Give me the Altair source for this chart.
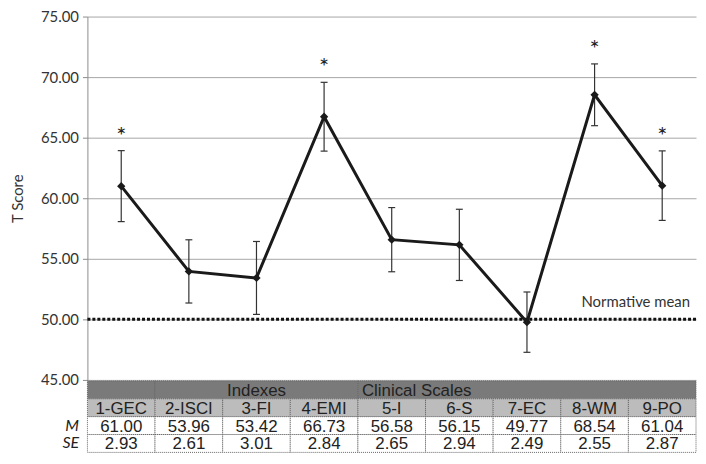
import altair as alt
import pandas as pd

# ---- data ----
scales = ["1-GEC", "2-ISCI", "3-FI", "4-EMI", "5-I", "6-S", "7-EC", "8-WM", "9-PO"]
means = [61.00, 53.96, 53.42, 66.73, 56.58, 56.15, 49.77, 68.54, 61.04]
ses = [2.93, 2.61, 3.01, 2.84, 2.65, 2.94, 2.49, 2.55, 2.87]
significant = [True, False, False, True, False, False, False, True, True]
normative_mean = [50]
y_ticks = [45, 50, 55, 60, 65, 70, 75]
group_names = ["Indexes", "Clinical Scales"]
group_spans = [(1, 4), (4, 9)]

W = 613
FONT = "Lato"
TFONT = "Liberation Sans"

df = pd.DataFrame({
    "scale": scales,
    "pos": [i + 0.5 for i in range(len(scales))],
    "M": means,
    "SE": ses,
})
df["lo"] = df["M"] - df["SE"]
df["hi"] = df["M"] + df["SE"]
df["sig"] = significant

xs = alt.Scale(domain=[0, 9], nice=False, zero=False)
X = alt.X("pos:Q", scale=xs, axis=None)
ys = alt.Scale(domain=[45, 75], nice=False, zero=False)

base = alt.Chart(df)

err = base.mark_rule(color="#333333", strokeWidth=1.2).encode(
    x=X, y=alt.Y("lo:Q", scale=ys), y2="hi:Q")
cap_lo = base.mark_rule(color="#333333", strokeWidth=1.2, xOffset=-3.5, x2Offset=3.5).encode(
    x=X, x2="pos:Q", y=alt.Y("lo:Q", scale=ys))
cap_hi = base.mark_rule(color="#333333", strokeWidth=1.2, xOffset=-3.5, x2Offset=3.5).encode(
    x=X, x2="pos:Q", y=alt.Y("hi:Q", scale=ys))

line = base.mark_line(color="#1a1a1a", strokeWidth=3).encode(
    x=X,
    y=alt.Y("M:Q", scale=ys, title="T Score",
            axis=alt.Axis(values=y_ticks, format=".2f", grid=True,
                          gridColor="#a6a6a6", gridWidth=1,
                          domainColor="#8c8c8c", tickColor="#8c8c8c",
                          tickSize=5, labelPadding=4,
                          labelFont=FONT, labelFontSize=15, labelColor="#333333",
                          titleFont=FONT, titleFontSize=15, titleFontWeight="normal",
                          titleColor="#333333", titlePadding=15)))
pts = base.mark_point(shape="diamond", filled=True, size=70, color="#1a1a1a", opacity=1).encode(
    x=X, y=alt.Y("M:Q", scale=ys))
stars = base.transform_filter("datum.sig").mark_text(
    text="*", fontSize=24, font=FONT, color="#222222", dy=-14, baseline="middle").encode(
    x=X, y=alt.Y("hi:Q", scale=ys))

norm_df = pd.DataFrame({"y": normative_mean, "x0": [0], "x1": [9], "label": ["Normative mean"]})
norm = alt.Chart(norm_df).mark_rule(color="#111111", strokeWidth=3, strokeDash=[3, 2]).encode(
    x=alt.X("x0:Q", scale=xs, axis=None), x2="x1:Q", y=alt.Y("y:Q", scale=ys))
norm_txt = alt.Chart(norm_df).mark_text(
    align="right", baseline="middle", dx=-6, dy=-17, fontSize=15, font=FONT, color="#333333").encode(
    x=alt.X("x1:Q", scale=xs, axis=None), y=alt.Y("y:Q", scale=ys), text="label:N")

top = alt.layer(norm, err, cap_lo, cap_hi, line, pts, stars, norm_txt).properties(width=W, height=366)

# ---- table below ----
rows = ["H", "N", "M", "SE"]
cells = []
cells.append({"row": "H", "x0": 0, "x1": 1, "label": "", "fill": "#7a7a7a"})
for name, (a, b) in zip(group_names, group_spans):
    cells.append({"row": "H", "x0": a, "x1": b, "label": name, "fill": "#7a7a7a"})
for i, s in enumerate(scales):
    cells.append({"row": "N", "x0": i, "x1": i + 1, "label": s, "fill": "#bcbcbc"})
    cells.append({"row": "M", "x0": i, "x1": i + 1, "label": f"{means[i]:.2f}", "fill": "#ffffff"})
    cells.append({"row": "SE", "x0": i, "x1": i + 1, "label": f"{ses[i]:.2f}", "fill": "#ffffff"})
cdf = pd.DataFrame(cells)
cdf["xc"] = (cdf["x0"] + cdf["x1"]) / 2

yrow = alt.Scale(domain=rows, paddingInner=0, paddingOuter=0)
tbase = alt.Chart(cdf)
trect = tbase.mark_rect(stroke="#666666", strokeWidth=1, strokeDash=[1, 1]).encode(
    x=alt.X("x0:Q", scale=xs, axis=None), x2="x1:Q",
    y=alt.Y("row:N", scale=yrow, title=None,
            axis=alt.Axis(domain=False, ticks=False, labelPadding=9,
                          labelExpr="datum.value == 'M' || datum.value == 'SE' ? datum.value : ''",
                          labelFont=FONT, labelFontSize=16, labelFontStyle="italic",
                          labelColor="#222222")),
    fill=alt.Fill("fill:N", scale=None))
ttext = tbase.transform_filter("datum.label != 'Clinical Scales'").mark_text(
    fontSize=17, font=TFONT, color="#222222", baseline="middle", dy=1).encode(
    x=alt.X("xc:Q", scale=xs, axis=None), y=alt.Y("row:N", scale=yrow), text="label:N")
ttext_left = tbase.transform_filter("datum.label == 'Clinical Scales'").mark_text(
    fontSize=17, font=TFONT, color="#222222", baseline="middle", align="left", dx=4, dy=1).encode(
    x=alt.X("x0:Q", scale=xs, axis=None), y=alt.Y("row:N", scale=yrow), text="label:N")

table = alt.layer(trect, ttext, ttext_left).properties(width=W, height=72)

chart = alt.vconcat(top, table, spacing=1, bounds="flush").properties(
    padding={"left": 2, "top": 0, "right": 0, "bottom": 0}
).configure_view(stroke=None)

chart.save("out.html", embed_options={"renderer": "svg", "actions": False})
